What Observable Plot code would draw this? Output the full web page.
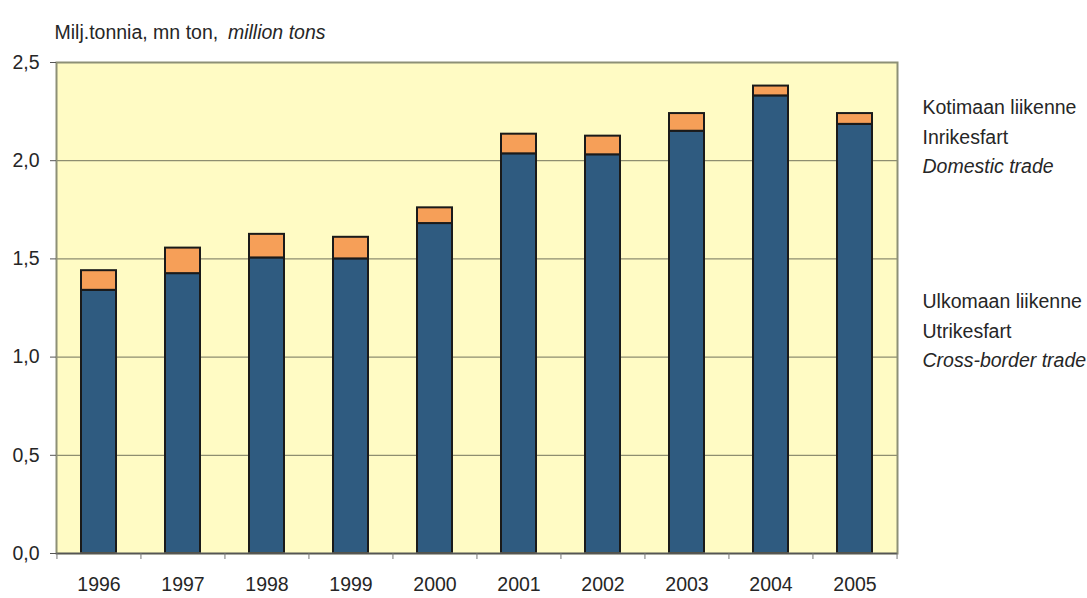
<!DOCTYPE html>
<html>
<head>
<meta charset="utf-8">
<script src="https://cdn.jsdelivr.net/npm/d3@7"></script>
<script src="https://cdn.jsdelivr.net/npm/@observablehq/plot@0.6"></script>
<style>
  html, body { margin: 0; padding: 0; background: #ffffff; }
</style>
</head>
<body>
<div id="chart"></div>
<script>
const years = ["1996", "1997", "1998", "1999", "2000", "2001", "2002", "2003", "2004", "2005"];
const crossBorder = [1.34, 1.425, 1.505, 1.50, 1.68, 2.035, 2.03, 2.15, 2.33, 2.185];
const domestic = [0.10, 0.13, 0.12, 0.11, 0.08, 0.10, 0.095, 0.09, 0.05, 0.055];
const seriesNames = ["Cross-border trade", "Domestic trade"];
const yTicks = [0, 0.5, 1.0, 1.5, 2.0, 2.5];
const yTitle = "Milj.tonnia, mn ton,";
const yTitleItalic = "million tons";
const legendDomestic = ["Kotimaan liikenne", "Inrikesfart", "Domestic trade"];
const legendCross = ["Ulkomaan liikenne", "Utrikesfart", "Cross-border trade"];

const rows = years.flatMap((yr, i) => [
  {year: yr, series: seriesNames[0], value: crossBorder[i]},
  {year: yr, series: seriesNames[1], value: domestic[i]}
]);

const W = 1087, H = 598;
const mL = 56, mR = 190, mT = 62, mB = 45;
const half = (W - mL - mR) / years.length / 2;
const font = "'Liberation Sans', Arial, sans-serif";
const textColor = "#262626";
const fs = 19.5;

const legendMarks = (lines, dy0) => lines.map((t, i) =>
  Plot.text([t], {
    text: d => d, frameAnchor: "top-right", textAnchor: "start",
    dx: 25, dy: dy0 + i * 29.5, fontSize: fs, fill: textColor,
    fontStyle: i === 2 ? "italic" : "normal"
  })
);

const chart = Plot.plot({
  width: W, height: H,
  marginLeft: mL, marginRight: mR, marginTop: mT, marginBottom: mB,
  style: {fontFamily: font, fontSize: fs + "px", color: textColor, background: "#ffffff"},
  x: {domain: years, paddingInner: 0.58, paddingOuter: 0.29, label: null},
  y: {domain: [0, 2.5], label: null},
  color: {domain: seriesNames, range: ["#2f5b80", "#f69f58"]},
  marks: [
    Plot.frame({fill: "#fffbc4", stroke: null}),
    Plot.ruleY(yTicks.slice(1, -1), {stroke: "#8e8e70", strokeWidth: 1.2}),
    Plot.barY(rows, {x: "year", y: "value", fill: "series", order: seriesNames, stroke: "#1a1a1a", strokeWidth: 2}),
    Plot.frame({stroke: "#8d9076", strokeWidth: 2}),
    Plot.ruleY([0], {stroke: "#555555", strokeWidth: 1.5}),
    Plot.axisY({ticks: yTicks, tickFormat: d => d3.format(".1f")(d).replace(".", ","), tickSize: 6, tickPadding: 11, fontSize: fs, stroke: "#555"}),
    Plot.axisX({tickSize: 0, tickPadding: 24, fontSize: fs}),
    Plot.axisX({tickSize: 6, tickFormat: () => "", dx: -half, stroke: "#777"}),
    Plot.axisX([years[years.length - 1]], {tickSize: 6, tickFormat: () => "", dx: half, stroke: "#777"}),
    Plot.text([yTitle], {text: d => d, frameAnchor: "top-left", textAnchor: "start", dx: -2, dy: -37, fontSize: fs, fill: textColor}),
    Plot.text([yTitleItalic], {text: d => d, frameAnchor: "top-left", textAnchor: "end", dx: 269, dy: -37, fontSize: fs, fontStyle: "italic", fill: textColor}),
    ...legendMarks(legendDomestic, 38),
    ...legendMarks(legendCross, 232)
  ]
});
document.getElementById("chart").appendChild(chart);
</script>
</body>
</html>
